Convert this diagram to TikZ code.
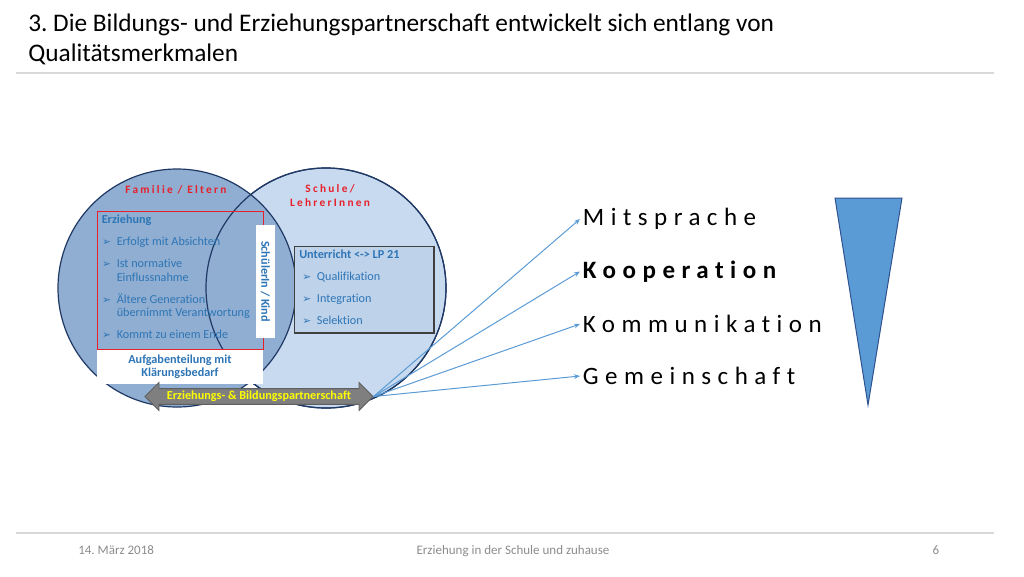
\documentclass[tikz,border=0pt]{standalone}
\usepackage{fontspec}
\setmainfont{Carlito}[Ligatures=NoCommon]
\newfontfamily\dejavu{DejaVu Sans}
\usetikzlibrary{shapes.arrows,arrows.meta,positioning}
\frenchspacing

\definecolor{famfill}{RGB}{143,174,209}
\definecolor{schfill}{RGB}{199,218,239}
\definecolor{unterfill}{RGB}{190,210,234}
\definecolor{ringline}{RGB}{31,56,100}
\definecolor{txtblue}{RGB}{46,117,182}
\definecolor{lblred}{RGB}{232,32,42}
\definecolor{lineblue}{RGB}{91,155,213}
\definecolor{triedge}{RGB}{47,82,143}
\definecolor{rulegray}{RGB}{217,217,217}
\definecolor{footgray}{RGB}{140,140,140}
\definecolor{arrowgray}{RGB}{127,127,127}
\definecolor{arrowedge}{RGB}{95,95,95}
\definecolor{partneryellow}{RGB}{255,255,0}

\newcommand{\arrowbullet}{\makebox[11.25pt][l]{\hspace{0.3pt}{\dejavu\fontsize{8}{8}\selectfont ➢}}}
\newcommand{\hang}{\hspace*{11.25pt}}
\newcommand{\qualityfont}{\fontsize{18.75}{22}\selectfont\addfontfeature{LetterSpace=26}}

\tikzstyle{ring} = [circle, draw=ringline, line width=0.9pt, inner sep=0pt]
\tikzstyle{circlelabel} = [text=lblred, align=center, inner sep=0pt, font=\bfseries\fontsize{8.5}{10.5}\selectfont\addfontfeature{LetterSpace=20}]
\tikzstyle{listtext} = [anchor=north west, inner sep=0pt, align=left, text=txtblue, font=\fontsize{9.15}{10.1}\selectfont]
\tikzstyle{whitebox} = [rectangle, fill=white, inner sep=0pt, text=txtblue, align=center, font=\bfseries\fontsize{9.15}{9.5}\selectfont]
\tikzstyle{quality} = [anchor=west, inner sep=2pt, font=\qualityfont]
\tikzstyle{pointer} = [lineblue, line width=0.75pt, -{Stealth[length=4.5pt,width=3.5pt]}]
\tikzstyle{footer} = [text=footgray, inner sep=0pt, font=\fontsize{9.75}{11}\selectfont]

\begin{document}
\begin{tikzpicture}[x=0.75pt, y=-0.75pt]
    \useasboundingbox (0,0) rectangle (1024,576);

    % Kopfzeile und Fusszeile
    \node[anchor=north west, inner sep=0pt, align=left, font=\fontsize{19}{22.5}\selectfont] (title) at (28,14) {3. Die Bildungs- und Erziehungspartnerschaft entwickelt sich entlang von\\Qualitätsmerkmalen};
    \draw[rulegray, line width=1.5pt] (16,72.5) -- (994,72.5);
    \draw[rulegray, line width=1.5pt] (16,533) -- (994,533);
    \node[footer, anchor=base west] (datum) at (78,554) {14. März 2018};
    \node[footer, anchor=base] (thema) at (513,554) {Erziehung in der Schule und zuhause};
    \node[footer, anchor=base] (seite) at (936,554) {6};

    % Kreise
    \node[ring, fill=schfill, minimum size=180pt] (schule) at (326,288) {};
    \node[ring, fill=famfill, minimum size=178.5pt] (familie) at (177,288) {};
    \node[ring, minimum size=180pt] (schulrand) at (schule) {};
    \node[circlelabel] (famlabel) at (176,190) {Familie / Eltern};
    \node[circlelabel] (schullabel) at (330,196) {Schule/\\LehrerInnen};

    % Erziehung
    \node[draw=lblred, line width=0.6pt, minimum width=124.5pt, minimum height=103.7pt, anchor=north west, inner sep=0pt] (erzbox) at (96.7,210.7) {};
    \node[whitebox, minimum width=124.5pt, minimum height=25.3pt, below=0pt of erzbox.south west, anchor=north west] (aufgabe) {Aufgabenteilung mit\\Klärungsbedarf};
    \draw[lblred, line width=0.6pt] (erzbox.south west) -- (erzbox.south east);
    \node[listtext] (erztext) at (101.5,215) {\textbf{Erziehung}\\[6.4pt]
        \arrowbullet Erfolgt mit Absichten\\[6.4pt]
        \arrowbullet Ist normative\\ \hang Einflussnahme\\[6.4pt]
        \arrowbullet Ältere Generation\\ \hang übernimmt Verantwortung\\[6.4pt]
        \arrowbullet Kommt zu einem Ende};

    % Kind in der Mitte
    \node[whitebox, minimum width=14.25pt, minimum height=84.75pt] (kind) at (265.5,281.5) {};
    \node[text=txtblue, rotate=-90, inner sep=0pt, font=\bfseries\fontsize{9.15}{10}\selectfont] (kindtext) at (kind) {SchülerIn / Kind};

    % Unterricht
    \node[draw=black!75, fill=unterfill, line width=1.1pt, minimum width=104.5pt, minimum height=64.7pt, anchor=north west, inner sep=0pt] (unterbox) at (294,246) {};
    \node[listtext, font=\fontsize{9.15}{16.5}\selectfont] (untertext) at (299,250) {\textbf{Unterricht <-> LP 21}\\
        \hspace*{2pt}\arrowbullet Qualifikation\\
        \hspace*{2pt}\arrowbullet Integration\\
        \hspace*{2pt}\arrowbullet Selektion};

    % Partnerschaft
    \node[double arrow, fill=arrowgray, draw=arrowedge, line width=0.6pt, text=partneryellow, font=\bfseries\fontsize{9.15}{10}\selectfont, minimum height=171pt, minimum width=21pt, double arrow head extend=4.5pt, double arrow tip angle=90, inner xsep=0pt, inner ysep=1.5pt] (partner) at (259,396.5) {Erziehungs- \& Bildungspartnerschaft};

    % Qualitaetsmerkmale
    \node[quality] (mitsprache) at (580,219) {Mitsprache};
    \node[quality, font={\bfseries\qualityfont}] (kooperation) at (580,271.5) {Kooperation};
    \node[quality] (kommunikation) at (580,324) {Kommunikation};
    \node[quality] (gemeinschaft) at (580,376) {Gemeinschaft};

    \draw[pointer] (partner.east) -- (mitsprache.west);
    \draw[pointer] (partner.east) -- (kooperation.west);
    \draw[pointer] (partner.east) -- (kommunikation.west);
    \draw[pointer] (partner.east) -- (gemeinschaft.west);

    % Keil
    \draw[fill=lineblue, draw=triedge, line width=0.75pt] (835,198) -- (902,198) -- (868,405) -- cycle;
\end{tikzpicture}
\end{document}
